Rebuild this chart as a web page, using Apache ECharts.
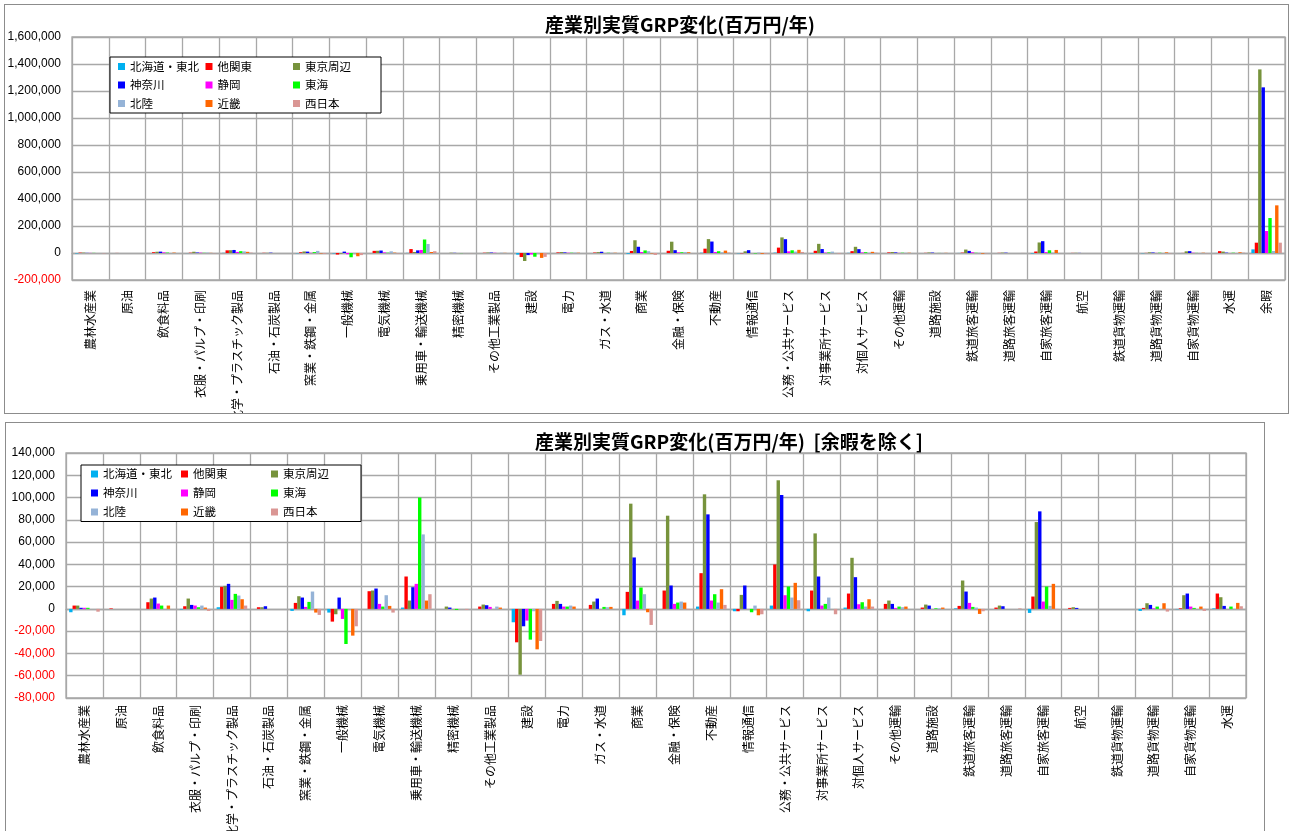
<!DOCTYPE html>
<html>
<head>
<meta charset="utf-8">
<script src="https://cdn.jsdelivr.net/npm/echarts@6/dist/echarts.min.js"></script>
<style>
  html, body { margin: 0; padding: 0; background: #fff; width: 1291px; height: 831px; overflow: hidden; }
  .box { position: absolute; box-sizing: border-box; border: 1px solid #8c8c8c; background: #fff; overflow: hidden; }
  #top { left: 4px; top: 4px; width: 1285px; height: 410px; }
  #bottom { left: 5px; top: 422px; width: 1260px; height: 415px; }
  .chart { width: 100%; height: 100%; }
</style>
</head>
<body>
<div id="top" class="box"><div id="c1" class="chart"></div></div>
<div id="bottom" class="box"><div id="c2" class="chart"></div></div>
<script>
// Industries (the last one, 余暇, appears only in the full chart)
const categories = ['農林水産業', '原油', '飲食料品', '衣服・パルプ・印刷', '化学・プラスチック製品', '石油・石炭製品',
  '窯業・鉄鋼・金属', '一般機械', '電気機械', '乗用車・輸送機械', '精密機械', 'その他工業製品', '建設', '電力',
  'ガス・水道', '商業', '金融・保険', '不動産', '情報通信', '公務・公共サービス', '対事業所サービス', '対個人サービス',
  'その他運輸', '道路施設', '鉄道旅客運輸', '道路旅客運輸', '自家旅客運輸', '航空', '鉄道貨物運輸', '道路貨物運輸',
  '自家貨物運輸', '水運', '余暇'];

const regions = ['北海道・東北', '他関東', '東京周辺', '神奈川', '静岡', '東海', '北陸', '近畿', '西日本'];

// Change in real GRP by region (million yen / year)
const hokkaidoTohoku = [-3000, 0, 0, -500, 1500, 0, -1800, -3300, 0, 1200, 0, 0, -12000, 0, 0, -5700, 0, 2100, -2100, 3000, -2100, 1200, 0, 0, 600, 0, -3600, 0, 0, -1800, -300, 600, 27000];
const otherKanto = [3000, 500, 6000, 2400, 19800, 1500, 5400, -11400, 15900, 29100, 0, 2100, -30000, 4500, 3600, 15300, 16500, 32100, -2100, 39900, 16500, 13800, 4500, 1200, 2700, 1200, 11100, 900, 0, 900, 600, 13800, 76500];
const tokyoArea = [3000, 0, 9300, 9300, 20700, 1500, 11400, -4800, 16500, 7500, 2100, 3900, -59100, 7200, 6600, 94500, 83700, 102900, 12600, 115500, 67800, 45900, 7500, 3900, 25500, 3000, 78000, 1500, 0, 5100, 12300, 10500, 1360000];
const kanagawa = [1000, 0, 10200, 3600, 22500, 2400, 10200, 10200, 18300, 19500, 1200, 3300, -15600, 4500, 9300, 46200, 21000, 84900, 21000, 102300, 29100, 28500, 4500, 3000, 15600, 2400, 87600, 900, 0, 3600, 13800, 2700, 1227000];
const shizuoka = [1000, 0, 4800, 3000, 8100, 0, 1800, -9000, 4500, 22500, 0, 1800, -10500, 2100, 0, 7500, 4500, 7500, 0, 12300, 3000, 4200, 900, 0, 5400, 0, 6600, 0, 0, 600, 2100, 0, 163000];
const tokai = [1000, 0, 3000, 1500, 13500, 0, 6300, -31500, 2100, 100000, -900, 0, -27600, 2100, 1800, 19200, 5700, 13200, -3000, 20100, 4500, 6000, 2100, 600, 1800, 0, 20100, 0, 0, 2100, 900, 2100, 259000];
const hokuriku = [0, 0, 0, 3000, 12000, 0, 15600, 0, 12300, 66900, 0, 2100, -2100, 3000, 1500, 13200, 6600, 5700, 3000, 10200, 10200, 2100, 1500, 600, 1200, 0, 2700, 0, 0, 0, 0, 0, 15000];
const kinki = [0, 0, 3000, 1200, 8700, 0, -3300, -24000, 2700, 7500, 0, 1200, -36300, 2100, 1800, -3000, 5700, 17700, -5700, 23400, 0, 8700, 2100, 1200, -4500, 0, 22500, 0, 0, 5100, 2100, 5400, 353000];
const westJapan = [-2500, 0, 0, -1800, 3000, 0, -5400, -15600, -3300, 13200, -900, 0, -28800, 0, 0, -14400, -500, 3600, -4800, 7800, -4800, 2100, 0, 0, -2100, 600, -500, 0, 0, -2400, -1800, 2400, 76500];

const seriesValues = [hokkaidoTohoku, otherKanto, tokyoArea, kanagawa, shizuoka, tokai, hokuriku, kinki, westJapan];
const colors = ['#00B0F0', '#FF0000', '#77933C', '#0000FF', '#FF00FF', '#00FF00', '#95B3D7', '#FF6600', '#DA9694'];

// Y-axis ranges (tick labels follow from min/max/interval)
const topAxis = { min: -200000, max: 1600000, interval: 200000 };
const bottomAxis = { min: -80000, max: 140000, interval: 20000 };

const gridColor = '#a8a8a8';
const cjk = '"Noto Sans CJK JP", "Noto Sans CJK SC", sans-serif';

function buildOption(cfg) {
  const n = cfg.count;
  return {
    animation: false,
    backgroundColor: '#fff',
    title: {
      text: cfg.title,
      left: cfg.titleLeft,
      top: cfg.titleTop,
      padding: 0,
      textStyle: { fontFamily: cjk, fontSize: 19, fontWeight: 'bold', color: '#000' }
    },
    legend: {
      left: cfg.legendLeft,
      top: cfg.legendTop,
      width: 330,
      orient: 'horizontal',
      icon: 'rect',
      itemWidth: 7,
      itemHeight: 7,
      itemGap: cfg.legendGap,
      padding: cfg.legendPadding,
      borderColor: '#000',
      borderWidth: 1,
      backgroundColor: '#fff',
      textStyle: { fontFamily: cjk, fontSize: 11.5, color: '#000', width: cfg.legendTextWidth, lineHeight: 15, overflow: 'none' },
      data: regions
    },
    grid: {
      left: cfg.grid.left, right: cfg.grid.right, top: cfg.grid.top, bottom: cfg.grid.bottom,
      containLabel: false,
      outerBoundsMode: 'none',
      show: true, borderColor: gridColor, borderWidth: 1.3, backgroundColor: 'transparent'
    },
    xAxis: {
      type: 'category',
      data: categories.slice(0, n),
      boundaryGap: true,
      axisLine: { show: true, lineStyle: { color: gridColor, width: 1.3 } },
      axisTick: { show: false },
      splitLine: { show: true, interval: 0, lineStyle: { color: gridColor, width: 1.3 } },
      axisLabel: { interval: 0, rotate: 90, margin: cfg.labelMargin, fontFamily: cjk, fontSize: 12, color: '#000', hideOverlap: false }
    },
    yAxis: {
      type: 'value',
      min: cfg.axis.min, max: cfg.axis.max, interval: cfg.axis.interval,
      axisLine: { show: false },
      axisTick: { show: false },
      splitLine: { show: true, lineStyle: { color: gridColor, width: 1.3 } },
      axisLabel: {
        margin: 11,
        fontFamily: '"Liberation Sans", Arial, sans-serif',
        fontSize: 12,
        formatter: v => Number(v).toLocaleString('en-US'),
        color: v => (Number(v) < 0 ? '#FF0000' : '#000')
      }
    },
    series: regions.map((name, i) => ({
      name: name,
      type: 'bar',
      data: seriesValues[i].slice(0, n),
      itemStyle: { color: colors[i] },
      barGap: '0%',
      barCategoryGap: '17%'
    }))
  };
}

const chartTop = echarts.init(document.getElementById('c1'), null, { renderer: 'canvas' });
chartTop.setOption(buildOption({
  count: 33,
  title: '産業別実質GRP変化(百万円/年)',
  titleLeft: 540, titleTop: 10,
  legendLeft: 105, legendTop: 52, legendGap: 3.5, legendPadding: [2, 4, 2, 8], legendTextWidth: 72,
  grid: { left: 67, right: 3, top: 32, bottom: 133 },
  labelMargin: 10,
  axis: topAxis
}));

const chartBottom = echarts.init(document.getElementById('c2'), null, { renderer: 'canvas' });
chartBottom.setOption(buildOption({
  count: 32,
  title: '産業別実質GRP変化(百万円/年)  [余暇を除く]',
  titleLeft: 529, titleTop: 9,
  legendLeft: 75, legendTop: 42, legendGap: 4, legendPadding: [1.5, 4, 2, 10], legendTextWidth: 74,
  grid: { left: 60, right: 18, top: 30, bottom: 138 },
  labelMargin: 7,
  axis: bottomAxis
}));
</script>
</body>
</html>
